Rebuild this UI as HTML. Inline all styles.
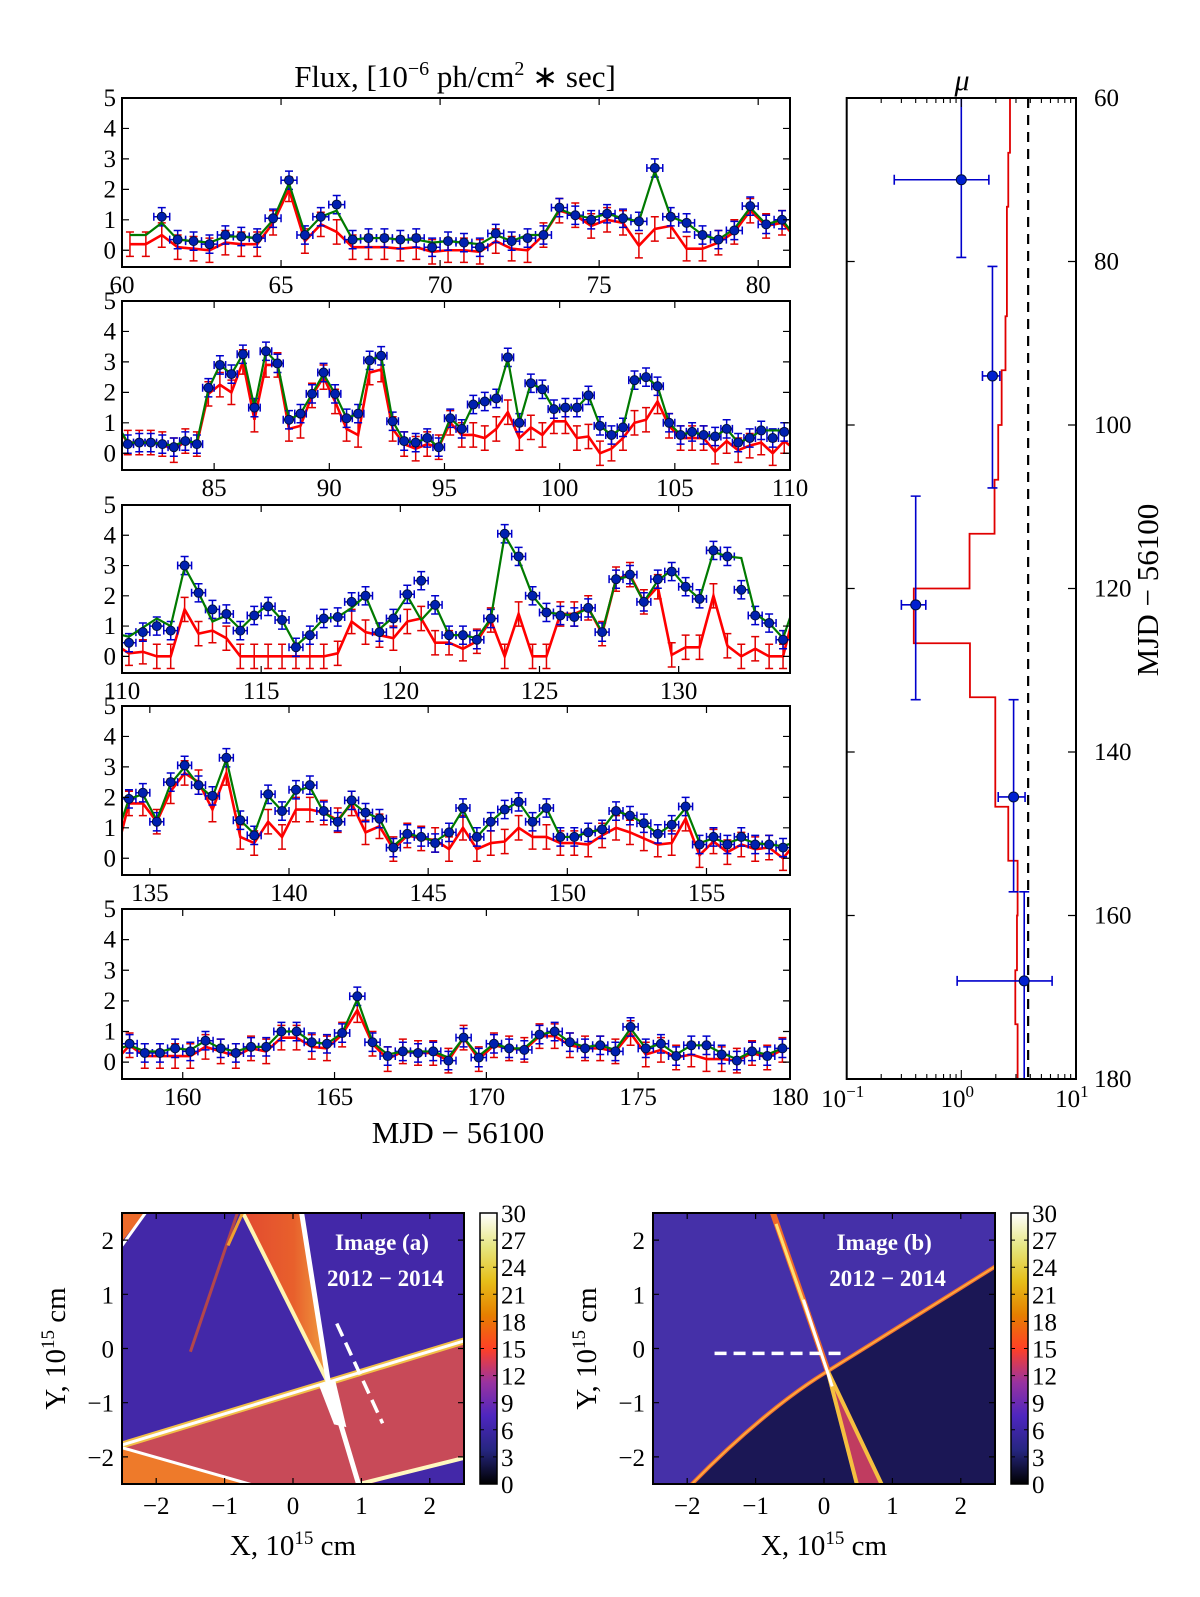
<!DOCTYPE html>
<html><head><meta charset="utf-8"><style>
html,body{margin:0;padding:0;background:#fff;}
svg{display:block;font-family:"Liberation Serif",serif;}
</style></head><body>
<svg id="fig" xmlns="http://www.w3.org/2000/svg" width="1200" height="1597" viewBox="0 0 1200 1597">
<defs>
<linearGradient id="cmr" x1="0" y1="1" x2="0" y2="0">
<stop offset="0" stop-color="#000000"/><stop offset="0.125" stop-color="#262680"/><stop offset="0.25" stop-color="#4d26bf"/><stop offset="0.375" stop-color="#9933a0"/><stop offset="0.5" stop-color="#ff4026"/><stop offset="0.625" stop-color="#e68000"/><stop offset="0.75" stop-color="#e6bf1a"/><stop offset="0.875" stop-color="#e6e680"/><stop offset="1" stop-color="#ffffff"/>
</linearGradient>
<linearGradient id="wedgeG" x1="0" y1="0" x2="1" y2="0">
<stop offset="0" stop-color="#e24a30"/><stop offset="0.6" stop-color="#e8602c"/><stop offset="1" stop-color="#f0a040"/>
</linearGradient>
</defs>
</svg>
<script>
// ---------- light-curve data (MJD-56100, 0.5-day bins) ----------
const T0 = 60.25, STEP = 0.5;
const blue1 = [null,null,1.1,0.35,0.3,0.2,0.5,0.45,0.4,1.05,2.3,0.5,1.1,1.5,0.35,0.4,0.4,0.35,0.4,0.1,0.3,0.25,0.1,0.55,0.3,0.4,0.5,1.4,1.15,1.0,1.2,1.05,0.95,2.7,1.1,0.9,0.5,0.35,0.65,1.45,0.85,1.0];
const green1 = [0.5,0.5,0.9,0.35,0.3,0.25,0.45,0.45,0.4,1.0,2.2,0.55,1.1,1.3,0.35,0.4,0.4,0.35,0.35,0.25,0.3,0.25,0.2,0.5,0.3,0.5,0.5,1.35,1.15,1.05,1.2,1.05,0.95,2.6,1.1,0.9,0.5,0.35,0.7,1.4,0.85,1.0];
const red1 = [0.2,0.2,0.5,0.1,0.05,0,0.25,0.2,0.2,0.9,2.0,0.3,0.85,0.6,0.1,0.1,0.1,0.05,0.1,-0.05,0,0,-0.05,0.3,0.05,0,0.5,1.3,1.15,0.8,1.0,0.9,0.15,0.7,0.8,0.05,0.05,0.25,0.6,1.3,0.8,0.9];
const blue2 = [0.3,0.35,0.35,0.3,0.2,0.4,0.3,2.15,2.9,2.6,3.25,1.5,3.35,2.95,1.1,1.3,1.95,2.65,1.95,1.15,1.3,3.05,3.2,1.05,0.4,0.35,0.5,0.2,1.15,0.8,1.6,1.7,1.8,3.15,1.0,2.3,2.1,1.45,1.5,1.5,1.9,0.9,0.6,0.85,2.4,2.5,2.2,1.0,0.6,0.7,0.6,0.55,0.8,0.35,0.5,0.75,0.5,0.7];
const green2 = [0.35,0.35,0.35,0.3,0.25,0.4,0.35,2.1,2.9,2.6,3.25,1.5,3.35,2.95,1.1,1.3,1.95,2.6,1.95,1.15,1.3,3.05,3.2,1.05,0.4,0.35,0.5,0.2,1.15,0.8,1.6,1.7,1.8,3.1,1.0,2.3,2.1,1.45,1.5,1.5,1.9,0.9,0.6,0.85,2.4,2.5,2.2,1.0,0.6,0.7,0.6,0.55,0.8,0.35,0.5,0.75,0.75,0.75];
const red2 = [0.35,0.35,0.35,0.3,0.1,0.4,0.3,1.95,2.25,2.0,3.0,1.1,2.9,2.9,0.8,0.9,1.9,2.5,1.7,0.8,0.6,2.65,2.75,0.8,0.3,0.15,0.3,0.2,1.0,0.6,0.6,0.5,0.8,1.35,0.5,0.85,0.6,1.05,1.05,0.5,0.55,0.0,0.15,0.5,1.0,1.1,1.7,0.9,0.5,0.5,0.5,0.05,0.4,0.1,0.25,0.35,0.0,0.4];
const blue3 = [0.45,0.8,1.0,0.85,3.0,2.1,1.55,1.4,0.85,1.35,1.65,1.2,0.3,0.7,1.25,1.3,1.8,2.0,0.8,1.25,2.05,2.5,1.7,0.7,0.7,0.55,1.25,4.05,3.3,2.0,1.45,1.35,1.3,1.6,0.8,2.55,2.7,1.8,2.55,2.8,2.3,1.9,3.5,3.3,2.2,1.35,1.1,0.55];
const green3 = [0.65,0.95,1.25,1.0,2.95,2.1,1.15,1.35,0.9,1.35,1.7,1.2,0.35,0.75,1.25,1.3,1.6,2.0,0.9,1.3,2.0,1.2,1.7,0.7,0.7,0.6,1.25,4.0,3.2,2.0,1.45,1.4,1.35,1.6,0.8,2.55,2.65,1.8,2.5,2.85,2.3,1.9,3.45,3.3,3.25,1.4,1.1,0.6];
const red3 = [0.1,0.15,0.0,0.0,1.55,0.75,0.85,0.6,0.0,0.0,0,0,0,0,0,0.1,1.15,0.8,0.7,0.6,1.15,1.25,0.45,0.45,0.25,0.5,1.2,0.0,1.4,0.0,0.0,1.4,1.4,1.6,0.75,2.55,2.7,1.8,2.3,0.05,0.3,0.3,2.0,0.35,0.0,0.25,0.0,0.0];
const blue4 = [1.95,2.15,1.2,2.5,3.05,2.4,2.05,3.3,1.25,0.75,2.1,1.55,2.25,2.4,1.55,1.2,1.9,1.5,1.3,0.35,0.8,0.7,0.5,0.85,1.65,0.7,1.2,1.6,1.85,1.2,1.65,0.7,0.7,0.85,0.95,1.55,1.4,1.15,0.8,1.1,1.7,0.45,0.7,0.45,0.7,0.45,0.45,0.35];
const green4 = [1.95,2.1,1.25,2.45,3.0,2.4,2.0,3.25,1.25,0.8,2.05,1.55,2.2,2.35,1.5,1.2,1.85,1.5,1.3,0.4,0.8,0.7,0.55,0.85,1.6,0.7,1.2,1.6,1.85,1.2,1.65,0.7,0.7,0.85,0.95,1.55,1.4,1.15,0.8,1.1,1.65,0.5,0.65,0.5,0.65,0.5,0.45,0.4];
const red4 = [1.8,1.8,1.2,2.2,2.8,2.5,1.6,2.8,0.7,0.5,1.2,0.7,1.6,1.6,1.5,1.25,1.8,0.85,1.05,0.3,0.75,0.65,0.6,0.3,1.0,0.3,0.5,0.55,1.0,0.7,0.7,0.5,0.5,0.45,0.75,1.0,0.85,0.65,0.45,0.5,1.3,0.1,0.55,0.2,0.45,0.3,0.35,0.0];
const blue5 = [0.6,0.3,0.3,0.45,0.35,0.7,0.45,0.3,0.5,0.5,1.0,1.0,0.65,0.6,0.95,2.15,0.65,0.2,0.35,0.3,0.35,0.05,0.8,0.15,0.6,0.45,0.4,0.9,1.0,0.65,0.45,0.55,0.35,1.15,0.45,0.6,0.2,0.55,0.55,0.25,0.05,0.35,0.2,0.45];
const green5 = [0.55,0.35,0.35,0.45,0.4,0.7,0.45,0.35,0.5,0.5,1.0,1.0,0.65,0.6,0.95,2.05,0.65,0.25,0.35,0.35,0.35,0.15,0.8,0.2,0.6,0.45,0.45,0.9,1.0,0.65,0.5,0.55,0.4,1.1,0.45,0.6,0.25,0.55,0.55,0.3,0.1,0.35,0.25,0.45];
const red5 = [0.55,0.2,0.2,0.2,0.2,0.5,0.35,0.2,0.45,0.35,0.8,0.8,0.5,0.45,0.9,1.7,0.6,0.1,0.35,0.3,0.3,0.05,0.8,0.1,0.55,0.45,0.4,0.85,0.85,0.55,0.45,0.45,0.35,0.95,0.25,0.4,0.15,0.25,0.1,0.1,0.05,0.3,0.15,0.4];
const BLUE_ERR = 0.3, RED_ERR = 0.4, X_ERR = 0.25;
const panelRanges = [[60,81],[81,110],[110,134],[134,158],[158,180]];
const panelXTicks = [[60,65,70,75,80],[85,90,95,100,105,110],[110,115,120,125,130],[135,140,145,150,155],[160,165,170,175,180]];
const fluxTicks = [0,1,2,3,4,5];

// ---------- mu panel data ----------
const muT = [70,94,122,145.5,168];
const muTlo = [60,80.6,108.7,133.6,157.1];
const muThi = [79.5,107.7,133.6,157.1,180];
const muVal = [1.0,1.87,0.40,2.86,3.54];
const muLo = [0.26,1.53,0.30,2.1,0.92];
const muHi = [1.74,2.17,0.49,3.6,6.2];
const stepEdges = [60,66.7,73.3,80,86.7,93.3,100,106.7,113.3,120,126.7,133.3,140,146.7,153.3,160,166.7,173.3,180];
const stepVals = [2.66,2.57,2.5,2.5,2.43,2.25,2.1,1.95,1.18,0.385,1.19,1.98,1.98,2.57,3.1,3.06,2.96,3.1];
const muDashed = 3.83;
const mjdTicks = [60,80,100,120,140,160,180];
const colorTicks = [0,3,6,9,12,15,18,21,24,27,30];
const imgTicks = [-2,-1,0,1,2];

const NS = "http://www.w3.org/2000/svg";
const svg = document.getElementById('fig');
function mk(tag, attrs, parent) {
  const e = document.createElementNS(NS, tag);
  for (const k in attrs) e.setAttribute(k, attrs[k]);
  (parent || svg).appendChild(e);
  return e;
}
function txt(x, y, s, size, anchor, parent) {
  const t = mk('text', {x: x, y: y, 'font-size': size, 'text-anchor': anchor || 'middle', fill: '#000'}, parent);
  t.textContent = s;
  return t;
}

const blue = [].concat(blue1, blue2, blue3, blue4, blue5);
const green = [].concat(green1, green2, green3, green4, green5);
const red = [].concat(red1, red2, red3, red4, red5);
const times = blue.map((_, i) => T0 + STEP * i);

const PL = 122, PR = 790;
const panelBoxes = [[98,267],[301,470],[505,673],[706,875],[909,1079]];
const YMIN = -0.55, YMAX = 5;

panelRanges.forEach((rg, p) => {
  const [x0, x1] = rg;
  const [top, bot] = panelBoxes[p];
  const xs = t => PL + (t - x0) / (x1 - x0) * (PR - PL);
  const ys = v => bot - (v - YMIN) / (YMAX - YMIN) * (bot - top);
  const g = mk('g', {});
  
  
  const cp = mk('clipPath', {id: 'clip' + p}, g);
  mk('rect', {x: PL, y: top, width: PR - PL, height: bot - top}, cp);
  const dg = mk('g', {'clip-path': 'url(#clip' + p + ')'}, g);
  const idx = times.map((t, i) => i).filter(i => times[i] >= x0 - 1 && times[i] <= x1 + 1);
  idx.forEach(i => {
    const x = xs(times[i]);
    const e = mk('path', {d: `M${x},${ys(red[i]-RED_ERR)}V${ys(red[i]+RED_ERR)}M${x-4},${ys(red[i]-RED_ERR)}h8M${x-4},${ys(red[i]+RED_ERR)}h8`, stroke: '#e00000', 'stroke-width': 1.5, fill: 'none'}, dg);
    
    
  });
  const rl = mk('path', {d: 'M' + idx.map(i => xs(times[i]) + ',' + ys(red[i])).join('L'), stroke: '#ff0000', 'stroke-width': 2.6, fill: 'none'}, dg);
  
  
  idx.forEach(i => {
    if (blue[i] === null) return;
    const x = xs(times[i]), y = ys(blue[i]);
    const xa = xs(times[i] - X_ERR), xb = xs(times[i] + X_ERR);
    const ya = ys(blue[i] - BLUE_ERR), yb = ys(blue[i] + BLUE_ERR);
    const e = mk('path', {d: `M${x},${ya}V${yb}M${x-4},${ya}h8M${x-4},${yb}h8M${xa},${y}H${xb}M${xa},${y-4}v8M${xb},${y-4}v8`, stroke: '#0000cc', 'stroke-width': 1.5, fill: 'none'}, dg);
    
    
  });
  const gl = mk('path', {d: 'M' + idx.map(i => xs(times[i]) + ',' + ys(green[i])).join('L'), stroke: '#007a00', 'stroke-width': 2.2, fill: 'none'}, dg);
  
  
  idx.forEach(i => {
    if (blue[i] === null) return;
    const c = mk('circle', {cx: xs(times[i]), cy: ys(blue[i]), r: 4.5, fill: '#0020b0', stroke: '#001040', 'stroke-width': 1}, dg);
    
    
  });
  const fr = mk('rect', {x: PL, y: top, width: PR - PL, height: bot - top, fill: 'none', stroke: '#000', 'stroke-width': 2}, g);
  
  
  fluxTicks.forEach(v => {
    const y = ys(v);
    const tk = mk('path', {d: `M${PL},${y}h7M${PR},${y}h-7`, stroke: '#000', 'stroke-width': 1.2}, g);
    
    
    const tl = txt(116, y + 8, String(v), 25, 'end', g);
    
    
  });
  panelXTicks[p].forEach(v => {
    const x = xs(v);
    const tk = mk('path', {d: `M${x},${bot}v-7M${x},${top}v7`, stroke: '#000', 'stroke-width': 1.2}, g);
    
    
    const tl = txt(x, bot + 26, String(v), 25, 'middle', g);
    
    
  });
});

const title = mk('text', {x: 455, y: 87, 'font-size': 31, 'text-anchor': 'middle'});
title.innerHTML = 'Flux,  [10<tspan dy="-12" font-size="20">−6</tspan><tspan dy="12"> ph/cm</tspan><tspan dy="-12" font-size="20">2</tspan><tspan dy="12"> ∗ sec]</tspan>';


const xl = txt(458, 1143, 'MJD − 56100', 31);



// ---------- mu panel ----------
const RL = 846.7, RR = 1076, RT = 98, RB = 1079;
const mx = v => RL + (Math.log10(v) + 1) * 114.6;
const my = d => RT + (d - 60) / 120 * (RB - RT);
const mg = mk('g', {});


let sp = '';
stepVals.forEach((v, i) => {
  sp += (i === 0 ? 'M' : 'L') + mx(v) + ',' + my(stepEdges[i]) + 'L' + mx(v) + ',' + my(stepEdges[i + 1]);
});
const stepLine = mk('path', {d: sp, stroke: '#e00000', 'stroke-width': 1.8, fill: 'none'}, mg);


const dl = mk('line', {x1: mx(muDashed), x2: mx(muDashed), y1: RT, y2: RB, stroke: '#000', 'stroke-width': 2.2, 'stroke-dasharray': '10,7'}, mg);


muVal.forEach((v, i) => {
  const x = mx(v), y = my(muT[i]);
  const xa = mx(muLo[i]), xb = mx(muHi[i]), ya = my(muTlo[i]), yb = my(muThi[i]);
  const e = mk('path', {d: `M${x},${ya}V${yb}M${x-5},${ya}h10M${x-5},${yb}h10M${xa},${y}H${xb}M${xa},${y-5}v10M${xb},${y-5}v10`, stroke: '#0000cc', 'stroke-width': 1.6, fill: 'none'}, mg);
  
  
  const c = mk('circle', {cx: x, cy: y, r: 5, fill: '#0020d0', stroke: '#001040', 'stroke-width': 1}, mg);
  
  
});
const mf = mk('rect', {x: RL, y: RT, width: RR - RL, height: RB - RT, fill: 'none', stroke: '#000', 'stroke-width': 2}, mg);


let minor = '';
[-1, 0].forEach(dec => {
  for (let k = 1; k <= 10; k++) {
    const x = mx(k * Math.pow(10, dec));
    const L = (k === 1 || k === 10) ? 9 : 5;
    minor += `M${x},${RB}v-${L}M${x},${RT}v${L}`;
  }
});
const mt = mk('path', {d: minor, stroke: '#000', 'stroke-width': 1.1}, mg);


[-1, 0, 1].forEach(e => {
  const t = mk('text', {x: mx(Math.pow(10, e)) - 4, y: RB + 28, 'font-size': 25, 'text-anchor': 'middle'}, mg);
  t.innerHTML = '10<tspan dy="-10" font-size="17">' + (e < 0 ? '−1' : String(e)) + '</tspan>';
  
  
});
mjdTicks.forEach(d => {
  const y = my(d);
  const tk = mk('path', {d: `M${RL},${y}h8M${RR},${y}h-8`, stroke: '#000', 'stroke-width': 1.2}, mg);
  
  
  const tl = txt(RR + 18, y + 8, String(d), 25, 'start', mg);
  
  
});
const mul = mk('text', {x: 962, y: 90, 'font-size': 30, 'font-style': 'italic', 'text-anchor': 'middle'}, mg);
mul.textContent = 'μ';


const ryl = mk('text', {x: 0, y: 0, 'font-size': 31, 'text-anchor': 'middle', transform: 'translate(1158,590) rotate(-90)'}, mg);
ryl.textContent = 'MJD − 56100';



// ---------- images ----------
function image(L, label, kind) {
  const T = 1213, W = 342, H = 271;
  const X = x => L + (x + 2.5) / 5 * W;
  const Y = y => T + (2.5 - y) / 5 * H;
  const pts = a => a.map(p => X(p[0]) + ',' + Y(p[1])).join(' ');
  const g = mk('g', {});
  
  
  const cid = 'ic' + kind;
  const cp = mk('clipPath', {id: cid}, g);
  mk('rect', {x: L, y: T, width: W, height: H}, cp);
  const d = mk('g', {'clip-path': `url(#${cid})`}, g);
  if (kind === 'a') {
    mk('rect', {x: L, y: T, width: W, height: H, fill: '#4328a8'}, d);
    const band = mk('polygon', {points: pts([[-2.5,-1.78],[2.5,0.14],[2.5,-2.02],[0.97,-2.55],[-2.5,-2.55]]), fill: '#c84a58'}, d);
    
    
    mk('polygon', {points: pts([[-2.5,-1.83],[-0.53,-2.55],[-2.5,-2.55]]), fill: '#ee7a2a'}, d);
    mk('polyline', {points: pts([[-2.5,-1.78],[2.5,0.14]]), stroke: '#f2c048', 'stroke-width': 7, fill: 'none'}, d);
    mk('polyline', {points: pts([[-2.5,-1.78],[2.5,0.14]]), stroke: '#fff', 'stroke-width': 3, fill: 'none'}, d);
    mk('polyline', {points: pts([[-2.5,-1.83],[-0.5,-2.55]]), stroke: '#fff', 'stroke-width': 3, fill: 'none'}, d);
    mk('polyline', {points: pts([[0.97,-2.5],[2.5,-2.02]]), stroke: '#fff8c0', 'stroke-width': 4, fill: 'none'}, d);
    const wedge = mk('polygon', {points: pts([[-0.75,2.55],[0.12,2.55],[0.52,-0.65]]), fill: 'url(#wedgeG)'}, d);
    
    
    mk('polyline', {points: pts([[-0.75,2.55],[0.52,-0.65]]), stroke: '#fff5b0', 'stroke-width': 4, fill: 'none'}, d);
    mk('polyline', {points: pts([[0.12,2.55],[0.52,-0.65],[0.97,-2.55]]), stroke: '#fff', 'stroke-width': 5, fill: 'none'}, d);
    mk('polygon', {points: pts([[0.38,-0.68],[0.62,-0.6],[0.78,-1.45],[0.6,-1.4]]), fill: '#fff'}, d);
    mk('polyline', {points: pts([[-1.5,-0.06],[-0.8,2.55]]), stroke: '#d8502c', 'stroke-width': 3, fill: 'none', opacity: 0.75}, d);
    mk('polyline', {points: pts([[-0.95,1.9],[-0.72,2.55]]), stroke: '#f0a030', 'stroke-width': 3, fill: 'none'}, d);
    mk('polygon', {points: pts([[-2.55,1.9],[-2.55,2.55],[-2.13,2.55]]), fill: '#ec6a2a'}, d);
    mk('polyline', {points: pts([[-2.5,1.9],[-2.13,2.55]]), stroke: '#fff', 'stroke-width': 3, fill: 'none'}, d);
    const dash = mk('line', {x1: X(0.64), y1: Y(0.46), x2: X(1.31), y2: Y(-1.38), stroke: '#fff', 'stroke-width': 3.5, 'stroke-dasharray': '14,7'}, d);
    
    
  } else {
    mk('rect', {x: L, y: T, width: W, height: H, fill: '#4530a8'}, d);
    const curve = `M${X(-1.97)},${Y(-2.55)} C${X(-1.2)},${Y(-1.55)} ${X(-0.5)},${Y(-0.85)} ${X(0)},${Y(-0.46)} S${X(1.6)},${Y(0.8)} ${X(2.55)},${Y(1.55)}`;
    const dark = mk('path', {d: curve + ` L${X(2.6)},${Y(-2.6)} Z`, fill: '#1b1755'}, d);
    
    
    mk('path', {d: curve, stroke: '#f07030', 'stroke-width': 4, fill: 'none'}, d);
    mk('path', {d: curve, stroke: '#ffb040', 'stroke-width': 1.5, fill: 'none'}, d);
    mk('polygon', {points: pts([[0.05,-0.4],[0.49,-2.55],[0.86,-2.55]]), fill: '#c03c60'}, d);
    mk('polyline', {points: pts([[0.05,-0.4],[0.49,-2.55]]), stroke: '#f5c040', 'stroke-width': 4, fill: 'none'}, d);
    mk('polyline', {points: pts([[0.05,-0.4],[0.86,-2.55]]), stroke: '#f5c040', 'stroke-width': 4, fill: 'none'}, d);
    mk('polyline', {points: pts([[-0.76,2.55],[0.05,-0.4]]), stroke: '#f06a2a', 'stroke-width': 6, fill: 'none'}, d);
    mk('polyline', {points: pts([[-0.7,2.3],[0.1,-0.6]]), stroke: '#ffe070', 'stroke-width': 3, fill: 'none'}, d);
    mk('polyline', {points: pts([[-0.3,0.9],[0.12,-0.7]]), stroke: '#fff', 'stroke-width': 3, fill: 'none'}, d);
    const dash = mk('line', {x1: X(-1.6), y1: Y(-0.09), x2: X(0.28), y2: Y(-0.09), stroke: '#fff', 'stroke-width': 3.5, 'stroke-dasharray': '12,7'}, d);
    
    
  }
  const t1 = mk('text', {x: X(kind === 'a' ? 1.3 : 0.88), y: Y(1.82), 'font-size': 23, 'font-weight': 'bold', fill: '#fff', 'text-anchor': 'middle'}, g);
  t1.textContent = label;
  
  
  const t2 = mk('text', {x: X(kind === 'a' ? 1.35 : 0.93), y: Y(1.15), 'font-size': 23, 'font-weight': 'bold', fill: '#fff', 'text-anchor': 'middle'}, g);
  t2.textContent = '2012 − 2014';
  
  
  const fr = mk('rect', {x: L, y: T, width: W, height: H, fill: 'none', stroke: '#000', 'stroke-width': 2}, g);
  
  
  imgTicks.forEach(v => {
    const tk = mk('path', {d: `M${X(v)},${T+H}v-6M${X(v)},${T}v6M${L},${Y(v)}h6M${L+W},${Y(v)}h-6`, stroke: '#000', 'stroke-width': 1.2}, g);
    
    
    const lx = txt(X(v), T + H + 30, v < 0 ? '−' + (-v) : String(v), 25, 'middle', g);
    
    
    const ly = txt(L - 8, Y(v) + 9, v < 0 ? '−' + (-v) : String(v), 25, 'end', g);
    
    
  });
  const xt = mk('text', {x: L + W / 2, y: 1555, 'font-size': 29, 'text-anchor': 'middle'}, g);
  xt.innerHTML = 'X,  10<tspan dy="-11" font-size="19">15</tspan><tspan dy="11"> cm</tspan>';
  
  
  const yt = mk('text', {x: 0, y: 0, 'font-size': 29, 'text-anchor': 'middle', transform: `translate(${L - 57},${T + H / 2}) rotate(-90)`}, g);
  yt.innerHTML = 'Y,  10<tspan dy="-11" font-size="19">15</tspan><tspan dy="11"> cm</tspan>';
  
  
  const CL = L + W + 16, CW = 17;
  const cb = mk('rect', {x: CL, y: T, width: CW, height: H, fill: 'url(#cmr)', stroke: '#000', 'stroke-width': 1.5}, g);
  
  
  colorTicks.forEach(v => {
    const y = T + H - v / 30 * H;
    const tk = mk('path', {d: `M${CL},${y}h4M${CL+CW},${y}h-4`, stroke: '#000', 'stroke-width': 1}, g);
    
    
    const tl = txt(CL + CW + 4, y + 9, String(v), 25, 'start', g);
    
    
  });
}
image(122, 'Image (a)', 'a');
image(653, 'Image (b)', 'b');
</script>
</body></html>
